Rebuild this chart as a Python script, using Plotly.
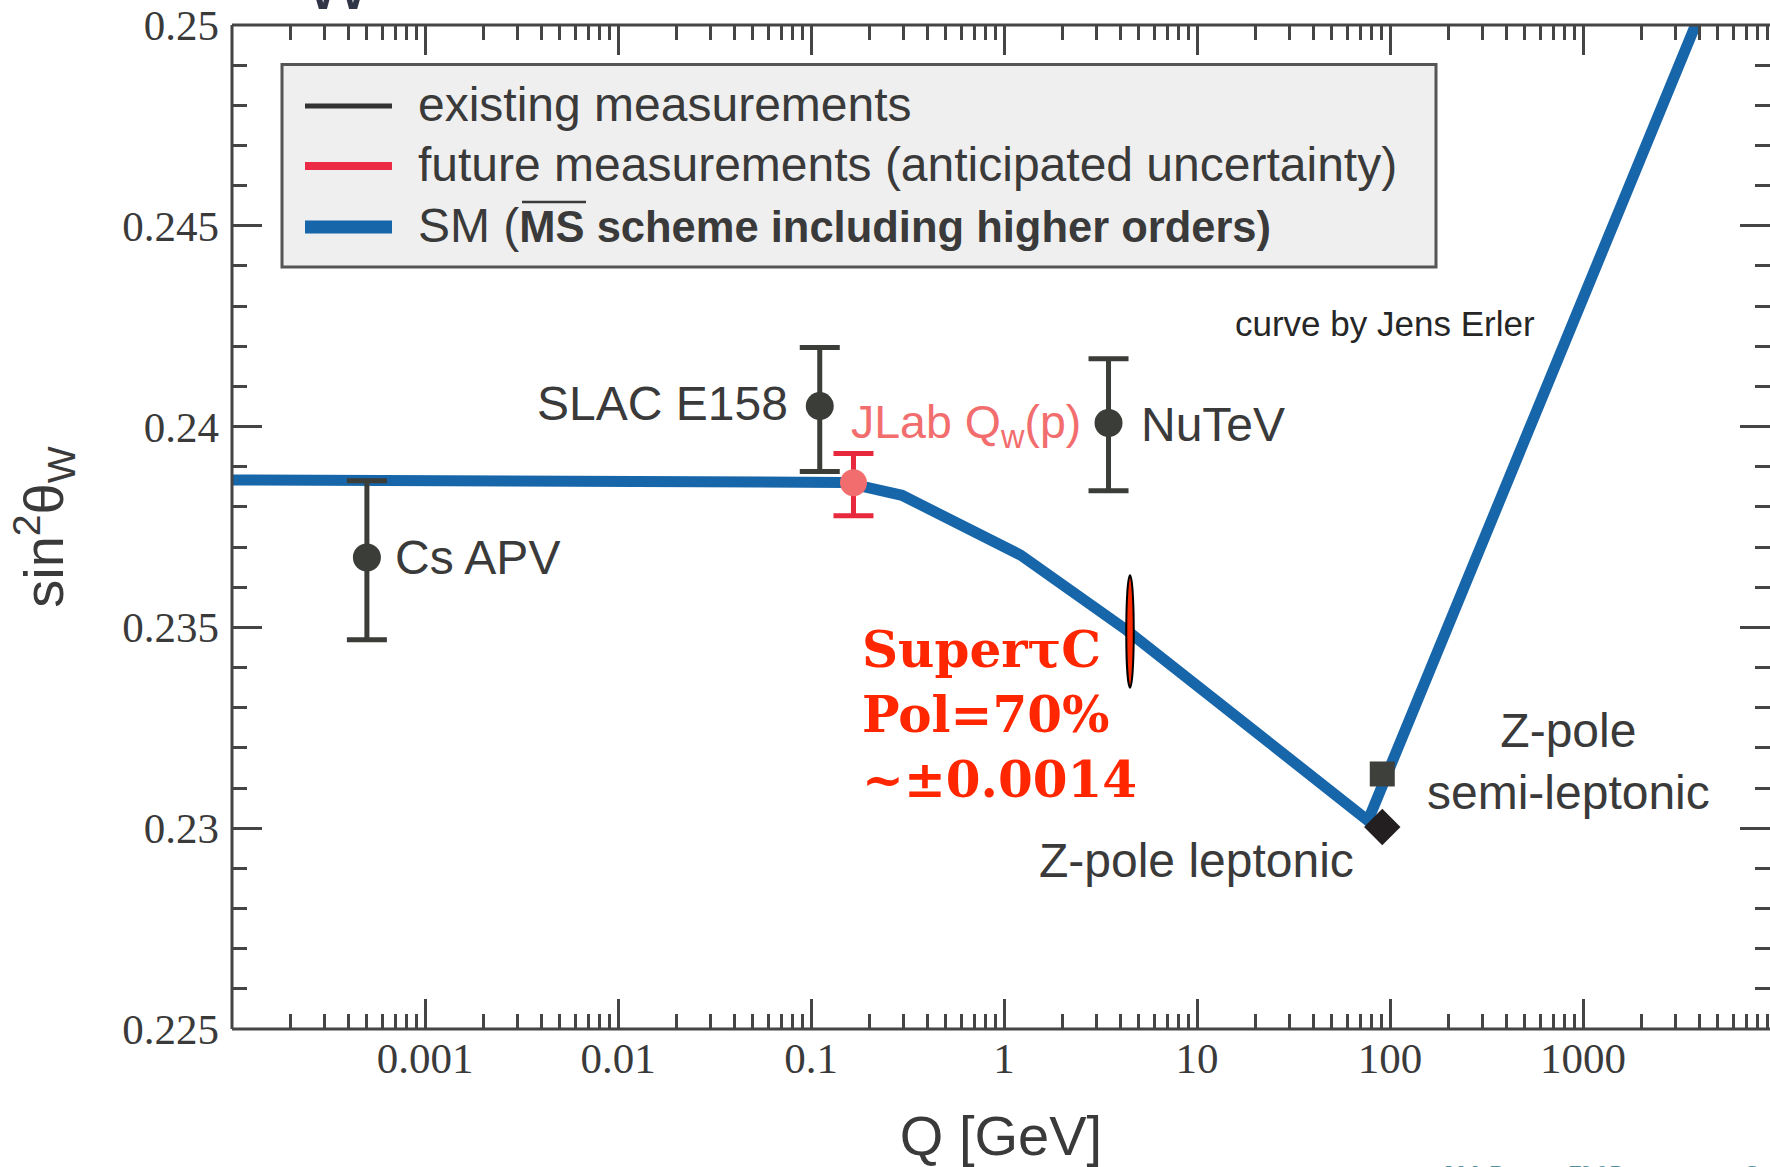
import numpy as np
import plotly.graph_objects as go

# ---------------- data ----------------
sm_q = [1e-4, 1e-2, 0.15, 0.296, 1.22, 4.3, 76.9, 3830.0, 4500.0]
sm_sin2 = [0.23867, 0.23865, 0.23861, 0.23829, 0.23680, 0.23494, 0.23019, 0.25000, 0.25082]

exp_names = ["Cs APV", "SLAC E158", "NuTeV"]
exp_q = [0.0005, 0.111, 3.48]
exp_sin2 = [0.23674, 0.24051, 0.24009]
exp_err_plus = [0.00191, 0.00146, 0.00160]
exp_err_minus = [0.00205, 0.00163, 0.00169]

jlab_q = [0.166]
jlab_sin2 = [0.23860]
jlab_err_plus = [0.00073]
jlab_err_minus = [0.00082]

zpole_q = [91.19]
zpole_leptonic = [0.23003]
zpole_semileptonic = [0.23135]

supertc_q = 4.3
supertc_sin2 = 0.2349
supertc_err = 0.0014

x_tick_vals = [0.001, 0.01, 0.1, 1, 10, 100, 1000]
x_tick_text = ["0.001", "0.01", "0.1", "1", "10", "100", "1000"]
y_tick_vals = [0.225, 0.23, 0.235, 0.24, 0.245, 0.25]
y_tick_text = ["0.225", "0.23", "0.235", "0.24", "0.245", "0.25"]
x_minor_vals = [k * 10.0 ** n for n in range(-4, 4) for k in range(2, 10)]
y_minor_vals = [round(0.225 + 0.001 * i, 3) for i in range(26)]

# ---------------- layout constants ----------------
W, H = 1770, 1167
L, T, B = 232, 25, 138
PW, PH = W - L, H - T - B
DECADE_PX = 193.0
x_range = [-4, -4 + PW / DECADE_PX]

SANS = "Liberation Sans, Arial, Helvetica, sans-serif"
SERIF = "Liberation Serif, Times New Roman, serif"
DARK = "#3b3d38"
TXT = "#3a3a3a"
AXC = "#454545"
BLUE = "#1766aa"
RED = "#e8283c"
SALMON = "#f26d6d"


def px(xp):
    return (xp - L) / PW


def py(yp):
    return (T + PH - yp) / PH


fig = go.Figure()

# SM running curve
fig.add_trace(go.Scatter(
    x=sm_q, y=sm_sin2, mode="lines",
    line=dict(color=BLUE, width=11),
    name="SM", showlegend=False, hoverinfo="skip"))

# existing measurements
fig.add_trace(go.Scatter(
    x=exp_q, y=exp_sin2, mode="markers",
    marker=dict(symbol="circle", size=28, color=DARK),
    error_y=dict(type="data", symmetric=False, array=exp_err_plus,
                 arrayminus=exp_err_minus, color=DARK, thickness=5, width=20),
    text=exp_names, name="existing measurements", showlegend=False))

# future JLab measurement
fig.add_trace(go.Scatter(
    x=jlab_q, y=jlab_sin2, mode="markers",
    marker=dict(symbol="circle", size=27, color=SALMON),
    error_y=dict(type="data", symmetric=False, array=jlab_err_plus,
                 arrayminus=jlab_err_minus, color=RED, thickness=5, width=20),
    name="JLab Qw(p)", showlegend=False))

# Z-pole points
fig.add_trace(go.Scatter(
    x=zpole_q, y=zpole_semileptonic, mode="markers",
    marker=dict(symbol="square", size=25, color="#3d403b"),
    name="Z-pole semi-leptonic", showlegend=False))
fig.add_trace(go.Scatter(
    x=zpole_q, y=zpole_leptonic, mode="markers",
    marker=dict(symbol="diamond", size=28, color="#231f20"),
    name="Z-pole leptonic", showlegend=False))

shapes = []
# frame (left, bottom, top)
for (x0, y0, x1, y1) in [(0, 0, 0, 1), (0, 0, 1, 0), (0, 1, 1, 1)]:
    shapes.append(dict(type="line", xref="paper", yref="paper", x0=x0, y0=y0,
                       x1=x1, y1=y1, line=dict(color=AXC, width=3), layer="above"))

# SuperTauCharm ellipse
shapes.append(dict(type="circle", xref="x", yref="y", xsizemode="pixel",
                   xanchor=supertc_q, x0=-7.5, x1=7.5,
                   y0=supertc_sin2 - supertc_err, y1=supertc_sin2 + supertc_err,
                   fillcolor="#ff2a00", line=dict(color="black", width=2),
                   layer="above"))

# custom legend box
shapes.append(dict(type="rect", xref="paper", yref="paper",
                   x0=px(282), x1=px(1436), y0=py(267), y1=py(64.5),
                   fillcolor="#efefef", line=dict(color="#555555", width=3),
                   layer="above"))
legend_rows = [
    (106, "#333333", 5, "existing measurements"),
    (166, "#ec2a45", 8, "future measurements (anticipated uncertainty)"),
    (227, BLUE, 13, None),
]
annotations = []
for yrow, col, lw, label in legend_rows:
    shapes.append(dict(type="line", xref="paper", yref="paper",
                       x0=px(305), x1=px(392), y0=py(yrow), y1=py(yrow),
                       line=dict(color=col, width=lw), layer="above"))
    if label is not None:
        annotations.append(dict(xref="paper", yref="paper", x=px(416), y=py(yrow - 2),
                                xanchor="left", yanchor="middle", showarrow=False,
                                text=label, font=dict(family=SANS, size=48, color=TXT)))
annotations.append(dict(
    xref="paper", yref="paper", x=px(416), y=py(225), xanchor="left", yanchor="middle",
    showarrow=False,
    text="SM (<span style='font-weight:bold;font-size:43.5px'>MS scheme including higher orders)</span>",
    font=dict(family=SANS, size=48, color=TXT)))
# overline on MS
shapes.append(dict(type="line", xref="paper", yref="paper",
                   x0=px(522), x1=px(586), y0=py(202), y1=py(202),
                   line=dict(color=TXT, width=2.5), layer="above"))

# point labels
lab_font = dict(family=SANS, size=48, color=TXT)
annotations += [
    dict(x=np.log10(exp_q[0]), y=exp_sin2[0], xanchor="left", yanchor="middle",
         xshift=26, showarrow=False, text="Cs APV", font=lab_font),
    dict(x=np.log10(exp_q[1]), y=exp_sin2[1], xanchor="right", yanchor="middle",
         xshift=-30, yshift=3, showarrow=False, text="SLAC E158", font=lab_font),
    dict(x=np.log10(exp_q[2]), y=exp_sin2[2], xanchor="left", yanchor="middle",
         xshift=30, yshift=-2, showarrow=False, text="NuTeV", font=lab_font),
    dict(x=np.log10(jlab_q[0]), y=jlab_sin2[0], xanchor="left", yanchor="middle",
         xshift=-4, yshift=57, showarrow=False, text="JLab Q<sub>w</sub>(p)",
         font=dict(family=SANS, size=46.5, color=SALMON)),
    dict(x=np.log10(zpole_q[0]), y=zpole_leptonic[0], xanchor="right", yanchor="middle",
         xshift=-26, yshift=-33, showarrow=False, text="Z-pole leptonic", font=lab_font),
    dict(x=np.log10(zpole_q[0]), y=zpole_semileptonic[0], xanchor="center", yanchor="middle",
         xshift=186, yshift=12, showarrow=False, align="center",
         text="Z-pole<br>semi-leptonic", font=lab_font),
    dict(xref="paper", yref="paper", x=px(1233), y=py(324), xanchor="left", yanchor="middle",
         showarrow=False, text="curve by Jens Erler",
         font=dict(family=SANS, size=35, color="#262626")),
    dict(xref="paper", yref="paper", x=px(860), y=py(714), xanchor="left", yanchor="middle",
         showarrow=False, align="left",
         text="<b>Superτ</b><b>C<br>Pol=70%<br>~±0.0014</b>",
         font=dict(family="DejaVu Serif, serif", size=50, color="#ff2600")),
    # footer and clipped slide-title remnant
    dict(xref="paper", yref="paper", x=px(1441), y=py(1159), xanchor="left", yanchor="top",
         showarrow=False, text="J.M. Roney - EW Programme at Super Tau-Charm",
         font=dict(family=SERIF, size=23, color="#4f9099")),
    dict(xref="paper", yref="paper", x=px(338), y=py(26), xanchor="center", yanchor="bottom",
         showarrow=False, text="W",
         font=dict(family=SANS, size=72, color="#2f3447")),
]

tick_font = dict(family=SERIF, size=43, color=TXT)
fig.update_layout(
    width=W, height=H,
    margin=dict(l=L, r=0, t=T, b=B, pad=0),
    paper_bgcolor="white", plot_bgcolor="white",
    showlegend=False,
    shapes=shapes, annotations=annotations,
    xaxis=dict(
        type="log", range=x_range, showgrid=False, zeroline=False, showline=False,
        mirror="ticks", ticks="inside", ticklen=30, tickwidth=2.5, tickcolor=AXC,
        tickvals=x_tick_vals, ticktext=x_tick_text, tickfont=tick_font,
        ticklabelstandoff=0,
        minor=dict(tickvals=x_minor_vals, ticks="inside", ticklen=15, tickwidth=2.5,
                   tickcolor=AXC, showgrid=False),
        title=dict(text="Q [GeV]", font=dict(family=SANS, size=56, color=TXT), standoff=38),
    ),
    yaxis=dict(
        range=[0.225, 0.25], showgrid=False, zeroline=False, showline=False,
        mirror="ticks", ticks="inside", ticklen=30, tickwidth=2.5, tickcolor=AXC,
        tickvals=y_tick_vals, ticktext=y_tick_text, tickfont=tick_font,
        ticklabelstandoff=12,
        minor=dict(tickvals=y_minor_vals, ticks="inside", ticklen=15, tickwidth=2.5,
                   tickcolor=AXC, showgrid=False),
        title=dict(text="sin<sup>2</sup>θ<sub>W</sub>", font=dict(family=SANS, size=56, color=TXT),
                   standoff=40),
    ),
)

fig.write_html("out.html")
